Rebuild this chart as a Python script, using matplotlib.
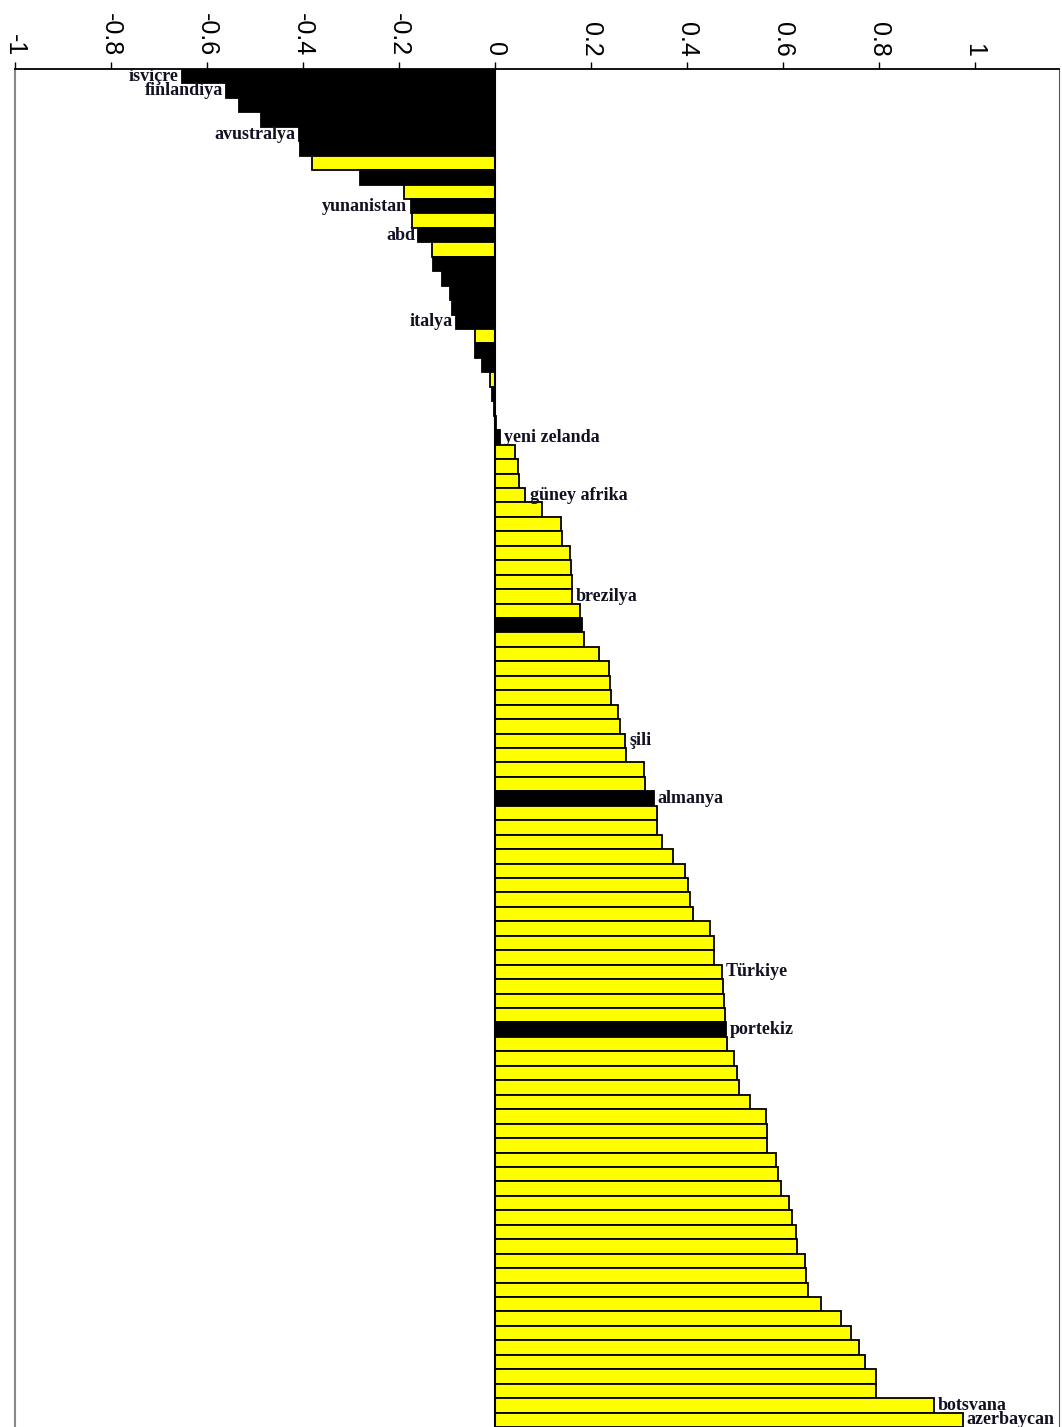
import matplotlib
matplotlib.use("Agg")
import matplotlib.pyplot as plt

# ---- data (top bar first) ----
values = [
    -0.652, -0.560, -0.534, -0.488, -0.408, -0.405, -0.381, -0.280, -0.190, -0.175,
    -0.172, -0.159, -0.131, -0.128, -0.109, -0.094, -0.090, -0.080, -0.042, -0.041,
    -0.027, -0.010, -0.005, -0.002, 0.003, 0.010, 0.043, 0.048, 0.050, 0.064,
    0.098, 0.138, 0.140, 0.156, 0.159, 0.160, 0.161, 0.178, 0.182, 0.185,
    0.218, 0.239, 0.240, 0.243, 0.257, 0.260, 0.272, 0.273, 0.310, 0.314,
    0.331, 0.338, 0.339, 0.348, 0.372, 0.397, 0.402, 0.406, 0.414, 0.449,
    0.456, 0.457, 0.473, 0.475, 0.477, 0.480, 0.482, 0.485, 0.498, 0.505,
    0.510, 0.532, 0.565, 0.567, 0.568, 0.586, 0.590, 0.597, 0.614, 0.619,
    0.627, 0.630, 0.647, 0.648, 0.652, 0.680, 0.722, 0.743, 0.760, 0.772,
    0.794, 0.795, 0.915, 0.975,
]

# 1-based positions of the black (highlighted) bars
black_bars = [1, 2, 3, 4, 5, 6, 8, 10, 12, 14, 15, 16, 17, 18, 20, 21, 23, 24, 26, 39, 51, 67]

# 1-based positions of labelled bars and their names
label_pos = [1, 2, 5, 10, 12, 18, 26, 30, 37, 47, 51, 63, 67, 93, 94]
label_names = ["isviçre", "finlandiya", "avustralya", "yunanistan", "abd", "italya",
               "yeni zelanda", "güney afrika", "brezilya", "şili", "almanya",
               "Türkiye", "portekiz", "botsvana", "azerbaycan"]

tick_values = [-1, -0.8, -0.6, -0.4, -0.2, 0, 0.2, 0.4, 0.6, 0.8, 1]
tick_labels = ["-1", "-0.8", "-0.6", "-0.4", "-0.2", "0", "0.2", "0.4", "0.6", "0.8", "1"]

# ---- figure ----
W, H = 1062, 1427
fig = plt.figure(figsize=(W / 100, H / 100), dpi=100)
ax = fig.add_axes([15 / W, 0.0, (1059 - 15) / W, 1 - 69 / H])

n = len(values)
ypos = list(range(n))
colors = ["black" if (i + 1) in black_bars else "#FFFF00" for i in range(n)]
ax.barh(ypos, values, height=1.0, color=colors, edgecolor="black", linewidth=1.3, zorder=2)
ax.axvline(0, color="black", lw=1.5, zorder=3)

ax.set_xlim(-1.0, 1.176)
ax.set_ylim(n - 0.5, -0.5)

ax.xaxis.tick_top()
ax.set_xticks(tick_values)
ax.set_xticklabels(tick_labels, rotation=-90, fontsize=18, family="Liberation Sans")
ax.tick_params(axis="x", direction="out", length=5, width=1, pad=4, top=True, bottom=False)
ax.set_yticks([])

ax.spines["bottom"].set_visible(False)
ax.spines["top"].set_linewidth(1.3)
ax.spines["left"].set_color("#888888")
ax.spines["left"].set_linewidth(1.5)
ax.spines["right"].set_color("#555555")

for p, name in zip(label_pos, label_names):
    v = values[p - 1]
    if v < 0:
        ax.annotate(name, (v, p - 1), xytext=(-2.5, 0), textcoords="offset points",
                    ha="right", va="center", fontsize=13, fontweight="bold",
                    family="Liberation Serif", color="#111122", zorder=4)
    else:
        ax.annotate(name, (v, p - 1), xytext=(3, 0), textcoords="offset points",
                    ha="left", va="center", fontsize=13, fontweight="bold",
                    family="Liberation Serif", color="#111122", zorder=4)

fig.savefig("out.png", dpi=100)
